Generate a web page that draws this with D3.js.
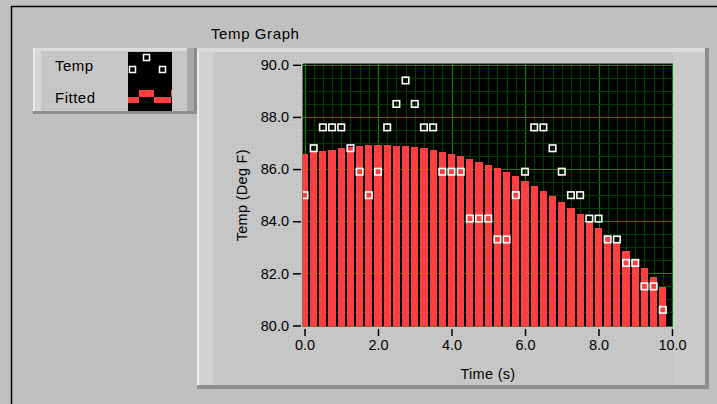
<!DOCTYPE html>
<html><head><meta charset="utf-8">
<script src="https://cdn.jsdelivr.net/npm/d3@7"></script>
<style>
html,body{margin:0;padding:0;background:#c0c0c0;}
svg{display:block;}
text{font-family:"Liberation Sans",Arial,sans-serif;fill:#000;}
</style></head>
<body>
<script>
// ---- data ----
const times = [0,0.25,0.5,0.75,1,1.25,1.5,1.75,2,2.25,2.5,2.75,3,3.25,3.5,3.75,4,4.25,4.5,4.75,5,5.25,5.5,5.75,6,6.25,6.5,6.75,7,7.25,7.5,7.75,8,8.25,8.5,8.75,9,9.25,9.5,9.75];
const tempValues = [85.0,86.8,87.6,87.6,87.6,86.8,85.9,85.0,85.9,87.6,88.5,89.4,88.5,87.6,87.6,85.9,85.9,85.9,84.1,84.1,84.1,83.3,83.3,85.0,85.9,87.6,87.6,86.8,85.9,85.0,85.0,84.1,84.1,83.3,83.3,82.4,82.4,81.5,81.5,80.6];
const fittedValues = [86.57,86.64,86.68,86.74,86.80,86.85,86.88,86.91,86.92,86.92,86.90,86.87,86.84,86.80,86.74,86.66,86.58,86.49,86.40,86.29,86.17,86.03,85.88,85.72,85.55,85.36,85.16,84.95,84.73,84.50,84.26,84.01,83.74,83.46,83.17,82.86,82.54,82.20,81.85,81.48];
const xTicks = [0,2,4,6,8,10];
const yTicks = [80,82,84,86,88,90];
const xMinor = d3.range(0,10.001,0.25);
const yMinor = d3.range(80,90.001,0.5);
const seriesNames = ["Temp","Fitted"];
const chartTitle = "Temp Graph";
const xLabel = "Time (s)";
const yLabel = "Temp (Deg F)";

const W=717,H=404;
const svg=d3.select("body").append("svg").attr("width",W).attr("height",H);
const defs=svg.append("defs");
const pat=defs.append("pattern").attr("id","dots").attr("width",4).attr("height",4).attr("patternUnits","userSpaceOnUse");
pat.append("rect").attr("width",4).attr("height",4).attr("fill","#c6c6c6");
pat.append("rect").attr("x",0).attr("y",0).attr("width",1).attr("height",1).attr("fill","#bcbcbc");
pat.append("rect").attr("x",2).attr("y",2).attr("width",1).attr("height",1).attr("fill","#cfcfcf");

// window background and frame
svg.append("rect").attr("width",W).attr("height",H).attr("fill","#c0c0c0");
svg.append("line").attr("x1",11).attr("x2",W).attr("y1",6.5).attr("y2",6.5).attr("stroke","#000").attr("stroke-width",1.5);
svg.append("line").attr("x1",11.5).attr("x2",11.5).attr("y1",6).attr("y2",H).attr("stroke","#000").attr("stroke-width",1.5);

// title
svg.append("text").attr("x",211).attr("y",39).attr("font-size",15).attr("letter-spacing",0.6).text(chartTitle);

// raised panel helper
function panel(x,y,w,h){
  const g=svg.append("g");
  g.append("rect").attr("x",x).attr("y",y).attr("width",w).attr("height",h).attr("fill","url(#dots)");
  g.append("rect").attr("x",x).attr("y",y).attr("width",8).attr("height",h).attr("fill","#d6d6d6");
  g.append("rect").attr("x",x).attr("y",y).attr("width",w).attr("height",3).attr("fill","#dcdcdc");
  g.append("rect").attr("x",x).attr("y",y).attr("width",1.5).attr("height",h).attr("fill","#f0f0f0");
  g.append("rect").attr("x",x+w-10).attr("y",y).attr("width",10).attr("height",h).attr("fill","#a8a8a8");
  g.append("rect").attr("x",x+w-3).attr("y",y).attr("width",3).attr("height",h).attr("fill","#8a8a8a");
  g.append("rect").attr("x",x).attr("y",y+h-3).attr("width",w).attr("height",3).attr("fill","#8e8e8e");
  return g;
}
// legend panel
panel(33,48,164,66);
// graph panel
const gp=svg.append("g");
gp.append("rect").attr("x",197).attr("y",48).attr("width",512).attr("height",341).attr("fill","url(#dots)");
gp.append("rect").attr("x",197).attr("y",48).attr("width",16).attr("height",341).attr("fill","#d2d2d2");
gp.append("rect").attr("x",197).attr("y",48).attr("width",2).attr("height",341).attr("fill","#ededed");
gp.append("rect").attr("x",197).attr("y",48).attr("width",512).attr("height",4).attr("fill","#dadada");
gp.append("rect").attr("x",673).attr("y",52).attr("width",33).attr("height",335).attr("fill","#cbcbcb");
gp.append("rect").attr("x",705).attr("y",48).attr("width",4).attr("height",341).attr("fill","#8c8c8c");
gp.append("rect").attr("x",197).attr("y",385).attr("width",512).attr("height",4).attr("fill","#8e8e8e");

// legend text + icon
svg.append("text").attr("x",55).attr("y",71).attr("font-size",15).attr("letter-spacing",0.5).text(seriesNames[0]);
svg.append("text").attr("x",55).attr("y",103).attr("font-size",15).attr("letter-spacing",0.5).text(seriesNames[1]);
const lg=svg.append("g");
lg.append("rect").attr("x",128).attr("y",52).attr("width",44).attr("height",59).attr("fill","#000");
const iconPts=[[146.5,57.5],[132.5,69.5],[162.5,69.5]];
lg.selectAll("rect.ip").data(iconPts).join("rect").attr("class","ip")
  .attr("x",d=>d[0]-3).attr("y",d=>d[1]-3).attr("width",6).attr("height",6)
  .attr("fill","none").attr("stroke","#fff").attr("stroke-width",1.5);
const iconBars=[[128,97,11,6],[139,90,15,7],[154,97,17,6],[171,90,1,7]];
lg.selectAll("rect.ib").data(iconBars).join("rect").attr("class","ib")
  .attr("x",d=>d[0]).attr("y",d=>d[1]).attr("width",d=>d[2]).attr("height",d=>d[3]).attr("fill","#ff4040");

// plot
const plot={x0:303,x1:673,y0:64,y1:326.5};
const x=d3.scaleLinear().domain([0,10]).range([304.5,672]);
const y=d3.scaleLinear().domain([80,90]).range([325.5,64.8]);
defs.append("clipPath").attr("id","pc").append("rect").attr("x",plot.x0).attr("y",plot.y0).attr("width",plot.x1-plot.x0).attr("height",plot.y1-plot.y0);

svg.append("rect").attr("x",plot.x0).attr("y",plot.y0).attr("width",plot.x1-plot.x0).attr("height",plot.y1-plot.y0).attr("fill","#000");
const pg=svg.append("g").attr("clip-path","url(#pc)");
// grid
pg.selectAll("line.vx").data(xMinor).join("line").attr("class","vx")
  .attr("x1",d=>Math.round(x(d))+0.5).attr("x2",d=>Math.round(x(d))+0.5).attr("y1",plot.y0).attr("y2",plot.y1)
  .attr("stroke",d=>xTicks.includes(d)?"#008a00":"#003f00").attr("stroke-width",1.2);
pg.selectAll("line.hy").data(yMinor).join("line").attr("class","hy")
  .attr("y1",d=>Math.round(y(d))+0.5).attr("y2",d=>Math.round(y(d))+0.5).attr("x1",plot.x0).attr("x2",plot.x1)
  .attr("stroke",d=>yTicks.includes(d)?"#008a00":"#003f00").attr("stroke-width",1.2);
// fitted bars (pixel-snapped, black gap between bars)
const bw=x(0.25)-x(0);
pg.selectAll("rect.bar").data(times).join("rect").attr("class","bar")
  .attr("shape-rendering","crispEdges")
  .attr("x",d=>Math.round(x(d)-bw/2)+1)
  .attr("width",d=>Math.round(x(d)+bw/2)-Math.round(x(d)-bw/2)-2)
  .attr("y",(d,i)=>Math.round(y(fittedValues[i]))).attr("height",(d,i)=>plot.y1-Math.round(y(fittedValues[i])))
  .attr("fill","#ff4040");
// temp points
pg.selectAll("rect.pt").data(times).join("rect").attr("class","pt")
  .attr("x",d=>x(d)-3.25).attr("y",(d,i)=>y(tempValues[i])-3.25).attr("width",6.5).attr("height",6.5)
  .attr("fill","none").attr("stroke","#fff").attr("stroke-width",1.6);
// plot inset border
svg.append("line").attr("x1",plot.x0-0.5).attr("x2",plot.x0-0.5).attr("y1",plot.y0).attr("y2",plot.y1).attr("stroke","#707070");
svg.append("line").attr("x1",plot.x0).attr("x2",plot.x1).attr("y1",plot.y0-0.5).attr("y2",plot.y0-0.5).attr("stroke","#707070");

// axes
const yAxis=d3.axisLeft(y).tickValues(yTicks).tickFormat(d3.format(".1f")).tickSize(8).tickPadding(4);
const ya=svg.append("g").attr("transform",`translate(${plot.x0-2},0)`).call(yAxis);
ya.select(".domain").remove();
ya.selectAll(".tick line").attr("stroke","#000").attr("stroke-width",1.5);
ya.selectAll(".tick text").attr("font-size",14.5).attr("font-family","Liberation Sans, Arial, sans-serif").attr("fill","#000");
const xAxis=d3.axisBottom(x).tickValues(xTicks).tickFormat(d3.format(".1f")).tickSize(7).tickPadding(4);
const xa=svg.append("g").attr("transform",`translate(0,${plot.y1+2.5})`).call(xAxis);
xa.select(".domain").remove();
xa.selectAll(".tick line").attr("stroke","#000").attr("stroke-width",1.5);
xa.selectAll(".tick text").attr("font-size",14.5).attr("font-family","Liberation Sans, Arial, sans-serif").attr("fill","#000");

svg.append("text").attr("x",(plot.x0+plot.x1)/2).attr("y",379).attr("text-anchor","middle").attr("font-size",14.5).attr("letter-spacing",0.3).text(xLabel);
svg.append("text").attr("transform",`translate(247,${(plot.y0+plot.y1)/2}) rotate(-90)`).attr("text-anchor","middle").attr("font-size",14.5).attr("letter-spacing",0.3).text(yLabel);
</script>
</body></html>
